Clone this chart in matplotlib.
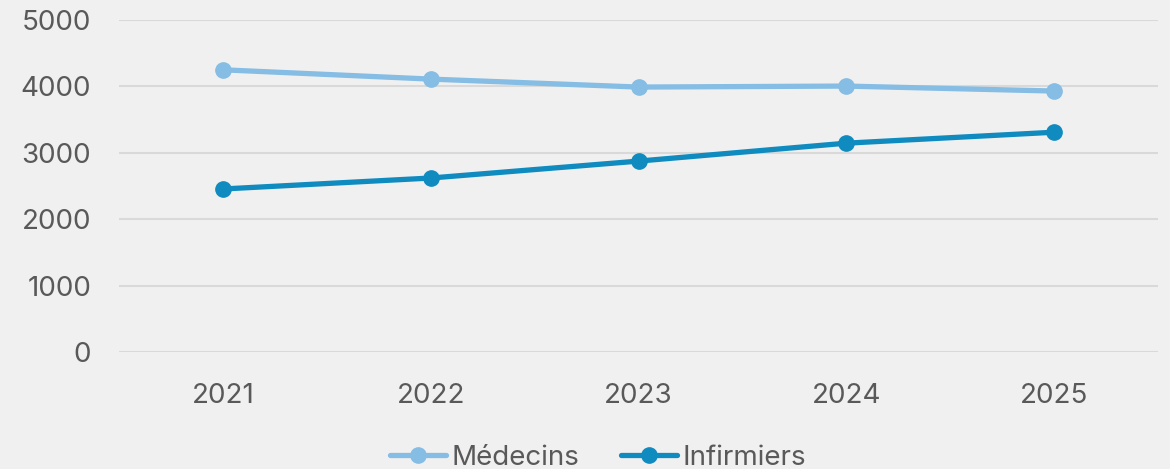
import matplotlib.pyplot as plt

# ------------------------------------------------------------
# DATA
# ------------------------------------------------------------
years = ['2021', '2022', '2023', '2024', '2025']
medecins = [4250, 4110, 3990, 4005, 3930]
infirmiers = [2455, 2620, 2875, 3145, 3310]
y_ticks = [0, 1000, 2000, 3000, 4000, 5000]

bg = '#f0f0f0'
txt = '#595959'

plt.rcParams['font.family'] = ['Inter', 'DejaVu Sans']

fig = plt.figure(figsize=(11.7, 4.69), dpi=100, facecolor=bg)
ax = fig.add_axes([119/1170, 1 - 352/469, (1158 - 119)/1170, (352 - 20)/469])
ax.set_facecolor(bg)

x = range(len(years))
ax.plot(x, medecins, color='#85bde4', lw=3.8, marker='o', markersize=11,
        label='Médecins', solid_capstyle='round', zorder=3)
ax.plot(x, infirmiers, color='#0f8bc0', lw=3.8, marker='o', markersize=11,
        label='Infirmiers', solid_capstyle='round', zorder=3)

ax.set_xlim(-0.5, len(years) - 0.5)
ax.set_ylim(0, 5000)
ax.set_xticks(list(x))
ax.set_xticklabels(years)
ax.set_yticks(y_ticks)
ax.yaxis.grid(True, color='#d9d9d9', lw=1.5)
ax.set_axisbelow(True)
for s in ax.spines.values():
    s.set_visible(False)
ax.tick_params(length=0, labelsize=20, labelcolor=txt)
ax.tick_params(axis='y', pad=20)
ax.tick_params(axis='x', pad=22)

leg = fig.legend(loc='center', bbox_to_anchor=(598/1170, 1 - 458/469), ncol=2,
                 frameon=False, fontsize=20, handlelength=2.0,
                 handletextpad=0.2, columnspacing=1.5)
for t in leg.get_texts():
    t.set_color(txt)

plt.savefig('out.png', dpi=100, facecolor=bg)
